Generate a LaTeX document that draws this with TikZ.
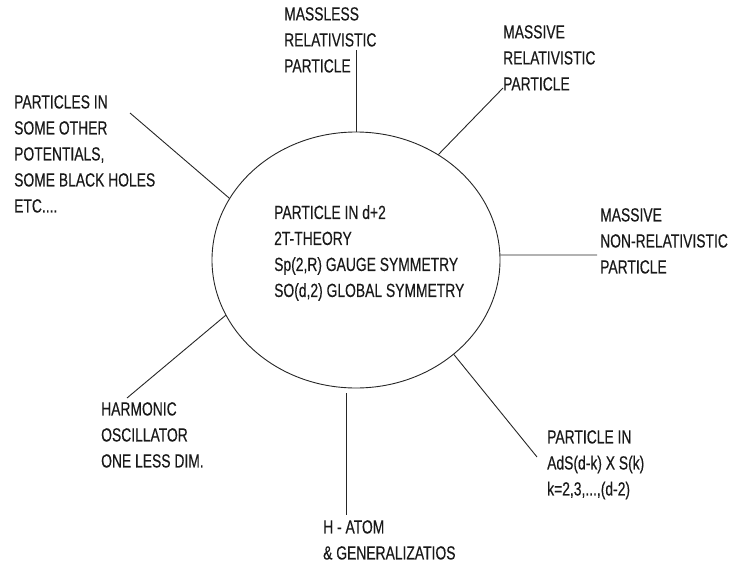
\documentclass[tikz,border=0pt]{standalone}
\usepackage{fontspec}
\newfontfamily\labelfont[FakeStretch=0.73,FakeBold=0.3]{Liberation Sans}
\usetikzlibrary{shapes.geometric}
\begin{document}
\begin{tikzpicture}[x=1pt,y=-1pt,
  lbl/.style={anchor=north west,inner sep=0pt,align=left,text=black!90,
    font=\labelfont\fontsize{19}{26}\selectfont},
  conn/.style={draw=black!85,line width=0.9pt}]
\useasboundingbox (0,0) rectangle (733,568);
\node[draw=black!85,line width=0.9pt,ellipse,minimum width=288pt,minimum height=256pt,inner sep=0pt] (c) at (356,260) {};
\node[lbl] (ctr) at (274,205) {PARTICLE IN d+2\\2T-THEORY\\Sp(2,R) GAUGE SYMMETRY\\SO(d,2) GLOBAL SYMMETRY};
% labels
\node[lbl] (mless) at (284,7) {MASSLESS\\RELATIVISTIC\\PARTICLE};
\node[lbl] (mrel) at (503,25) {MASSIVE\\RELATIVISTIC\\PARTICLE};
\node[lbl] (pot) at (14,95) {PARTICLES IN\\SOME OTHER\\POTENTIALS,\\SOME BLACK HOLES\\ETC....};
\node[lbl] (nrel) at (600,208) {MASSIVE\\NON-RELATIVISTIC\\PARTICLE};
\node[lbl] (harm) at (101,402) {HARMONIC\\OSCILLATOR\\ONE LESS DIM.};
\node[lbl] (hat) at (323,520) {H - ATOM\\\& GENERALIZATIOS};
\node[lbl] (ads) at (547,430) {PARTICLE IN\\AdS(d-k) X S(k)\\k=2,3,...,(d-2)};
% connector ends
\coordinate (e1) at (356,50);
\coordinate (e2) at (503,88);
\coordinate (e3) at (130,113);
\coordinate (e4) at (597,255);
\coordinate (e5) at (127,398);
\coordinate (e6) at (346,515);
\coordinate (e7) at (537,457);
\draw[conn] (c.north) -- (e1);
\draw[conn] (c.52.6) -- (e2);
\draw[conn] (c.154.9) -- (e3);
\draw[conn] (c.2) -- (e4);
\draw[conn] (c.203.2) -- (e5);
\draw[conn,shorten <=5pt] (e6 |- c.south) -- (e6);
\draw[conn] (c.316.2) -- (e7);
\end{tikzpicture}
\end{document}
